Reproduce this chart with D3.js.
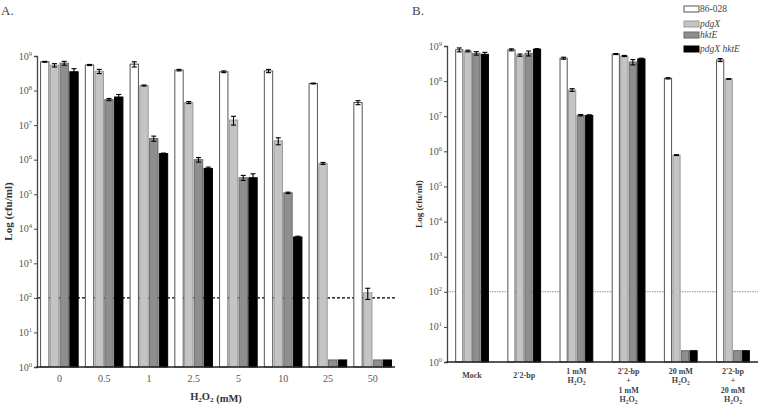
<!DOCTYPE html>
<html>
<head>
<meta charset="utf-8">
<script src="https://cdn.jsdelivr.net/npm/d3@7"></script>
<style>
  body { margin: 0; background: #fff; }
  svg { display: block; font-family: "Liberation Serif", "DejaVu Serif", serif; }
</style>
</head>
<body>
<svg id="chart" width="760" height="407"></svg>
<script>
// panel A data, cfu/ml
var doses = ["0", "0.5", "1", "2.5", "5", "10", "25", "50"];
var strains = ["86-028", "pdgX", "hktE", "pdgX hktE"];
var aWild = [6.8e8, 5.5e8, 5.8e8, 3.9e8, 3.5e8, 3.7e8, 1.6e8, 4.5e7];
var aPdgX = [5.4e8, 3.6e8, 1.4e8, 4.5e7, 1.4e7, 3.5e6, 7.8e5, 1.4e2];
var aHktE = [6.2e8, 5.5e7, 4.1e6, 1.0e6, 3.0e5, 1.1e5, 1.6, 1.6];
var aBoth = [3.5e8, 6.5e7, 1.5e6, 5.6e5, 3.0e5, 5.8e3, 1.6, 1.6];
var aWildErr = [2e7, 2e7, 1e8, 2e7, 2e7, 4e7, 5e6, 6e6];
var aPdgXErr = [6e7, 5e7, 5e6, 3e6, 4e6, 8e5, 5e4, 50];
var aHktEErr = [8e7, 4e6, 7e5, 1.5e5, 5e4, 5e3, 0, 0];
var aBothErr = [8e7, 1.2e7, 5e4, 5e4, 9e4, 3e2, 0, 0];

// panel B data, cfu/ml
var treatments = [["Mock"], ["2'2-bp"], ["1 mM", "H2O2"], ["2'2-bp", "+", "1 mM", "H2O2"],
                  ["20 mM", "H2O2"], ["2'2-bp", "+", "20 mM", "H2O2"]];
var bWild = [7.8e8, 7.8e8, 4.5e8, 5.9e8, 1.2e8, 4.0e8];
var bPdgX = [7.2e8, 5.5e8, 5.6e7, 5.2e8, 7.8e5, 1.15e8];
var bHktE = [6.2e8, 6.2e8, 1.07e7, 3.5e8, 2.1, 2.1];
var bBoth = [5.8e8, 8.1e8, 1.05e7, 4.3e8, 2.1, 2.1];
var bWildErr = [1e8, 5e7, 3e7, 2e7, 5e6, 4e7];
var bPdgXErr = [4e7, 4e7, 5e6, 2e7, 2e4, 2e6];
var bHktEErr = [7e7, 1e8, 5e5, 6e7, 0, 0];
var bBothErr = [8e7, 3e7, 5e5, 2e7, 0, 0];

var yTicks = [1, 1e1, 1e2, 1e3, 1e4, 1e5, 1e6, 1e7, 1e8, 1e9];
var fills = ["#ffffff", "#c4c4c4", "#8e8e8e", "#000000"];
var strokes = ["#555", "#999", "#6a6a6a", "#000"];

var svg = d3.select("#chart");

function rows(cats, vals, errs) {
    return cats.map((c, i) => ({ cat: i, vals: vals.map(v => v[i]), errs: errs.map(e => e[i]) }));
}

function panel(opt) {
    var x = d3.scaleBand().domain(d3.range(opt.n)).range([opt.left, opt.right])
        .paddingInner(opt.pin).paddingOuter(opt.pout);
    var x1 = d3.scaleBand().domain(d3.range(4)).range([0, x.bandwidth()]).padding(0.04);
    var y = d3.scaleLog().domain([1, 1e9]).range([opt.bottom, opt.top]);
    var g = svg.append("g");

    // detection limit line (behind the bars)
    g.append("line")
        .attr("x1", opt.left).attr("x2", opt.right)
        .attr("y1", y(100)).attr("y2", y(100))
        .attr("stroke", opt.dashColor).attr("stroke-width", opt.dashWidth)
        .attr("stroke-dasharray", opt.dash);

    var grp = g.selectAll("g.grp").data(opt.data).enter().append("g")
        .attr("class", "grp")
        .attr("transform", d => `translate(${x(d.cat)},0)`);

    grp.selectAll("rect")
        .data(d => d.vals.map((v, k) => ({ k: k, v: v })))
        .enter().append("rect")
        .attr("x", d => x1(d.k) + 0.5)
        .attr("width", x1.bandwidth() - 1)
        .attr("y", d => y(d.v))
        .attr("height", d => y(1) - y(d.v))
        .attr("fill", d => fills[d.k])
        .attr("stroke", d => strokes[d.k])
        .attr("stroke-width", 1);

    var eb = grp.selectAll("g.err")
        .data(d => d.vals.map((v, k) => ({ k: k, v: v, e: d.errs[k] })).filter(d => d.e > 0))
        .enter().append("g").attr("class", "err")
        .attr("stroke", "#000").attr("stroke-width", 1.1);
    eb.append("line")
        .attr("x1", d => x1(d.k) + x1.bandwidth() / 2).attr("x2", d => x1(d.k) + x1.bandwidth() / 2)
        .attr("y1", d => y(d.v + d.e)).attr("y2", d => y(Math.max(d.v - d.e, 1)));
    ["+", "-"].forEach(s => {
        eb.append("line")
            .attr("x1", d => x1(d.k) + x1.bandwidth() / 2 - 2.5)
            .attr("x2", d => x1(d.k) + x1.bandwidth() / 2 + 2.5)
            .attr("y1", d => y(s == "+" ? d.v + d.e : Math.max(d.v - d.e, 1)))
            .attr("y2", d => y(s == "+" ? d.v + d.e : Math.max(d.v - d.e, 1)));
    });

    // axes
    var ya = g.append("g")
        .attr("transform", `translate(${opt.left},0)`)
        .call(d3.axisLeft(y).tickValues(yTicks).tickSize(3).tickFormat(""));
    ya.select(".domain").attr("stroke", "#444").attr("stroke-width", 1.3);
    ya.selectAll(".tick line").attr("stroke", "#444");
    yTicks.forEach(t => {
        var tx = g.append("text")
            .attr("x", opt.left - 5).attr("y", y(t) + 3.5)
            .attr("text-anchor", "end").attr("fill", "#555")
            .style("font-size", "10px");
        tx.append("tspan").text("10");
        tx.append("tspan").attr("dy", -4).style("font-size", "6.5px")
            .text(Math.round(Math.log10(t)));
    });

    g.append("line")
        .attr("x1", opt.left - 0.6).attr("x2", opt.right)
        .attr("y1", opt.bottom).attr("y2", opt.bottom)
        .attr("stroke", "#222").attr("stroke-width", 1.5);

    // y title
    g.append("text")
        .attr("transform", `translate(${opt.ylx},${(opt.top + opt.bottom) / 2}) rotate(-90)`)
        .attr("text-anchor", "middle").attr("fill", "#333")
        .style("font-size", opt.ylSize).style("font-weight", "bold")
        .text("Log (cfu/ml)");
    return { x: x, y: y, g: g };
}

// subscripted H2O2
function h2o2(sel, size, sub) {
    sel.append("tspan").text("H");
    sel.append("tspan").attr("dy", sub).style("font-size", size).text("2");
    sel.append("tspan").attr("dy", -sub).text("O");
    sel.append("tspan").attr("dy", sub).style("font-size", size).text("2");
    sel.append("tspan").attr("dy", -sub).text("");
}

// ---------- panel A ----------
var A = panel({
    n: doses.length, left: 37, right: 395, top: 56, bottom: 367,
    pin: 0.12, pout: 0.06,
    data: rows(doses, [aWild, aPdgX, aHktE, aBoth], [aWildErr, aPdgXErr, aHktEErr, aBothErr]),
    dashColor: "#000", dashWidth: 1.3, dash: "3,2",
    ylx: 12, ylSize: "11px"
});
A.g.selectAll(".xl").data(doses).enter().append("text")
    .attr("class", "xl")
    .attr("x", (d, i) => A.x(i) + A.x.bandwidth() / 2)
    .attr("y", 382).attr("text-anchor", "middle").attr("fill", "#555")
    .style("font-size", "10px").text(d => d);
var at = A.g.append("text").attr("x", 216).attr("y", 400).attr("text-anchor", "middle")
    .attr("fill", "#333").style("font-size", "10.5px").style("font-weight", "bold");
h2o2(at, "7px", 2);
at.append("tspan").text(" (mM)");
svg.append("text").attr("x", 1).attr("y", 15).attr("fill", "#444")
    .style("font-size", "13px").text("A.");

// ---------- panel B ----------
var B = panel({
    n: treatments.length, left: 447, right: 758, top: 46, bottom: 362,
    pin: 0.34, pout: 0.15,
    data: rows(treatments, [bWild, bPdgX, bHktE, bBoth], [bWildErr, bPdgXErr, bHktEErr, bBothErr]),
    dashColor: "#777", dashWidth: 0.8, dash: "1.5,1",
    ylx: 422, ylSize: "9px"
});
treatments.forEach((lines, i) => {
    lines.forEach((ln, j) => {
        var t = B.g.append("text")
            .attr("x", B.x(i) + B.x.bandwidth() / 2)
            .attr("y", (lines.length == 1 ? 378 : 374) + j * 9.4)
            .attr("text-anchor", "middle").attr("fill", "#444")
            .style("font-size", "8px").style("font-weight", "bold");
        if (ln == "H2O2") h2o2(t, "5.5px", 1.5);
        else t.text(ln);
    });
});
svg.append("text").attr("x", 412).attr("y", 15).attr("fill", "#444")
    .style("font-size", "13px").text("B.");

// legend
var leg = svg.append("g").attr("transform", "translate(684,6)");
var li = leg.selectAll("g").data(strains).enter().append("g")
    .attr("transform", (d, i) => `translate(0,${[0, 15, 26, 40][i]})`);
li.append("rect").attr("width", 15).attr("height", 6)
    .attr("fill", (d, i) => fills[i]).attr("stroke", (d, i) => strokes[i]);
li.append("text").attr("x", 16).attr("y", 6)
    .attr("fill", "#444").style("font-size", "9.5px")
    .style("font-style", (d, i) => i == 0 ? "normal" : "italic")
    .text(d => d);
</script>
</body>
</html>
